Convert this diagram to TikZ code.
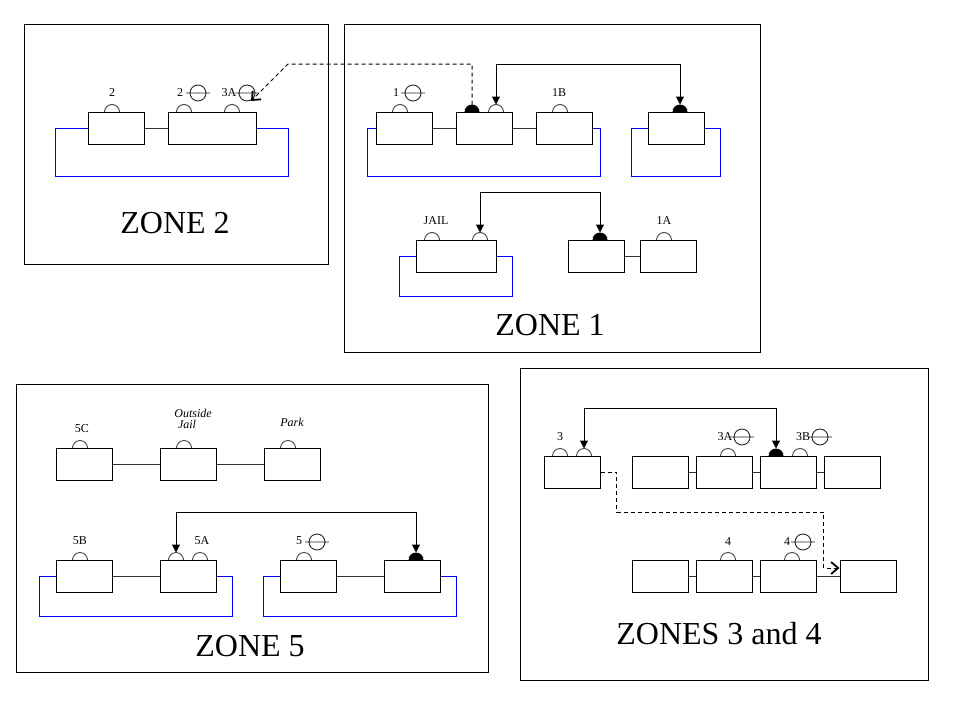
\documentclass[tikz,border=0pt]{standalone}
\usepackage{fontspec}
\setmainfont{Liberation Serif}
\usetikzlibrary{arrows.meta}

\tikzset{
  unitbox/.style={draw,line width=1pt,minimum width=56pt,minimum height=32pt,inner sep=0pt},
  zoneframe/.style={draw,line width=1pt},
  feeder/.style={draw=black!80,line width=1pt},
  busline/.style={draw=blue,line width=1pt},
  arrowlink/.style={line width=1pt,{Triangle[width=8pt,length=8pt]}-{Triangle[width=8pt,length=8pt]}},
  dashlink/.style={line width=1pt,dash pattern=on 4pt off 3pt,-{Straight Barb[length=7pt,width=12pt,line width=1.8pt]}},
  lbl/.style={font=\fontsize{12}{14}\selectfont,inner sep=1pt},
  zonetitle/.style={font=\fontsize{32}{38}\selectfont,inner sep=0pt},
  bump/.pic={\draw[line width=0.9pt,black!75] (-7.5,0) arc[start angle=180,end angle=360,radius=7.5];
    \coordinate (-top) at (0,-7.5);},
  fullbump/.pic={\fill (-7.5,0) arc[start angle=180,end angle=360,radius=7.5] -- cycle;
    \coordinate (-top) at (0,-7.5);},
  breaker/.pic={\draw[line width=0.9pt,black!85] (0,0) circle[radius=8] (-12,0) -- (12,0);},
}

\begin{document}
\begin{tikzpicture}[x=1pt,y=-1pt]
  \useasboundingbox (0,0) rectangle (960,720);
  % zone frames
  \draw[zoneframe] (24,24) rectangle (328,264);
  \draw[zoneframe] (344,24) rectangle (760,352);
  \draw[zoneframe] (16,384) rectangle (488,672);
  \draw[zoneframe] (520,368) rectangle (928,680);
  \node[zonetitle] (t2) at (175,223) {ZONE 2};
  \node[zonetitle] (t1) at (550,325) {ZONE 1};
  \node[zonetitle] (t5) at (250,646) {ZONE 5};
  \node[zonetitle] (t34) at (719,634) {ZONES 3 and 4};

  % units
  \node[unitbox] (z2a) at (116,128) {};
  \node[unitbox,minimum width=88pt] (z2b) at (212,128) {};
  \node[unitbox,minimum width=80pt] (z1j) at (456,256) {};
  \foreach \n/\x/\y in {z1a/404/128, z1b/484/128, z1c/564/128, z1d/676/128,
      z1e/596/256, z1f/668/256,
      z5c/84/464, z5oj/188/464, z5p/292/464,
      z5b/84/576, z5a/188/576, z5e/308/576, z5d/412/576,
      z3/572/472, z3a/660/472, z3b/724/472, z3c/788/472, z3d/852/472,
      z4a/660/576, z4b/724/576, z4c/788/576, z4d/868/576}
    \node[unitbox] (\n) at (\x,\y) {};

  % feeders between units
  \foreach \a/\b in {z2a/z2b, z1a/z1b, z1b/z1c, z1e/z1f, z5c/z5oj, z5oj/z5p,
      z5b/z5a, z5e/z5d, z3a/z3b, z3b/z3c, z3c/z3d, z4a/z4b, z4b/z4c, z4c/z4d}
    \draw[feeder] (\a.east) -- (\b.west);

  % blue buses
  \draw[busline] (z2a.west) -- ++(-32,0) |- ([xshift=32pt,yshift=-48pt]z2b.east) |- (z2b.east);
  \draw[busline] (z1a.west) -- ++(-8,0) |- ([xshift=8pt,yshift=-48pt]z1c.east) |- (z1c.east);
  \draw[busline] (z1d.west) -- ++(-16,0) |- ([xshift=16pt,yshift=-48pt]z1d.east) |- (z1d.east);
  \draw[busline] (z1j.west) -- ++(-16,0) |- ([xshift=16pt,yshift=-40pt]z1j.east) |- (z1j.east);
  \draw[busline] (z5b.west) -- ++(-16,0) |- ([xshift=16pt,yshift=-40pt]z5a.east) |- (z5a.east);
  \draw[busline] (z5e.west) -- ++(-16,0) |- ([xshift=16pt,yshift=-40pt]z5d.east) |- (z5d.east);

  % terminals
  \foreach \x/\y in {112/112, 184/112, 232/112, 400/112, 560/112, 432/240, 664/240,
      80/448, 184/448, 288/448, 80/560, 200/560, 304/560,
      560/456, 728/456, 800/456, 728/560, 792/560}
    \pic at (\x,\y) {bump};
  \pic (jb1) at (496,112) {bump};
  \pic (jb2) at (480,240) {bump};
  \pic (jb3) at (176,560) {bump};
  \pic (jb4) at (584,456) {bump};
  \pic (fb0) at (472,112) {fullbump};
  \pic (fb1) at (680,112) {fullbump};
  \pic (fb2) at (600,240) {fullbump};
  \pic (fb3) at (416,560) {fullbump};
  \pic (fb4) at (776,456) {fullbump};
  \foreach \x/\y in {198/93, 247/93, 413/93, 317/542, 742/437, 820/437, 803/542}
    \pic at (\x,\y) {breaker};

  % labels
  \foreach \n/\x/\y/\t in {l2a/112/93/2, l2b/180/93/2, l3x/229/93/3A, l1/396/93/1,
      l1b/559/93/1B, lj/436/221/JAIL, l1a/664/221/1A, l5c/82/429/5C,
      l5b/80/541/5B, l5a/202/541/5A, l5/299/541/5, l3/560/437/3,
      l3a/725/437/3A, l3b/803/437/3B, l4a/728/542/4, l4b/787/542/4}
    \node[lbl] (\n) at (\x,\y) {\t};
  \node[lbl,font=\fontsize{12}{14}\selectfont\itshape] (lout) at (193,413) {Outside};
  \node[lbl,font=\fontsize{12}{14}\selectfont\itshape] (ljail) at (187,424) {Jail};
  \node[lbl,font=\fontsize{12}{14}\selectfont\itshape] (lpark) at (292,422) {Park};

  % transfer links
  \draw[arrowlink] (jb1-top) -- ++(0,-40) -| (fb1-top);
  \draw[arrowlink] (jb2-top) -- ++(0,-40) -| (fb2-top);
  \draw[arrowlink] (jb3-top) -- ++(0,-40) -| (fb3-top);
  \draw[arrowlink] (jb4-top) -- ++(0,-40) -| (fb4-top);
  \coordinate (z2in) at (251,101);
  \draw[dashlink] (fb0-top) |- (288,64) -- (z2in);
  \draw[dashlink] (z3.east) -- ++(16,0) |- ([xshift=-16pt,yshift=64pt]z4d.west) |- ([yshift=8pt]z4d.west);
\end{tikzpicture}
\end{document}
